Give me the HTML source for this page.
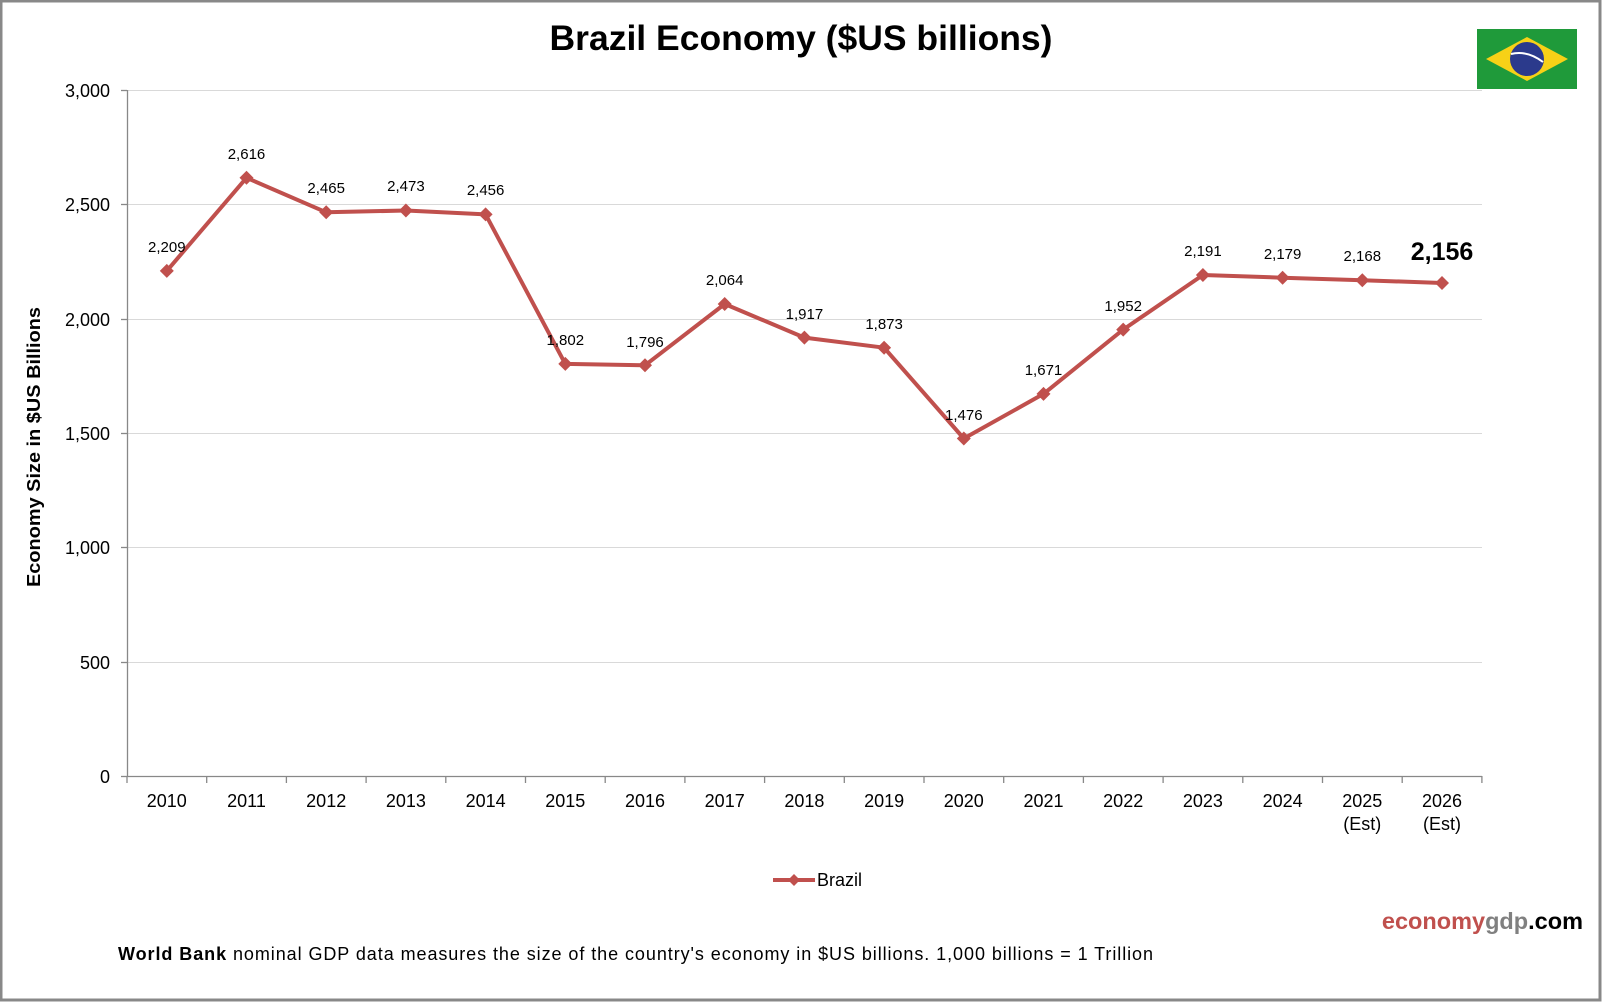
<!DOCTYPE html>
<html><head><meta charset="utf-8"><style>html,body{margin:0;padding:0;background:#fff}svg{display:block}</style></head><body>
<svg width="1602" height="1002" viewBox="0 0 1602 1002" xmlns="http://www.w3.org/2000/svg" font-family="Liberation Sans, Arial, sans-serif">
<rect x="1" y="1" width="1599" height="999" fill="#fff" stroke="#888" stroke-width="3"/>
<text x="801" y="50" text-anchor="middle" font-size="35.5" font-weight="bold">Brazil Economy ($US billions)</text>
<g>
<rect x="1477" y="29" width="100" height="60" fill="#1f9a3a"/>
<polygon points="1486,59 1527,37 1568,59 1527,81" fill="#f7d117"/>
<circle cx="1527" cy="59" r="17" fill="#2b3a8c"/>
<path d="M1511,54 Q1527,50 1543,62" stroke="#fff" stroke-width="2" fill="none"/>
</g>
<g stroke="#d9d9d9" stroke-width="1">
<line x1="127" y1="90.5" x2="1482" y2="90.5"/><line x1="127" y1="204.5" x2="1482" y2="204.5"/><line x1="127" y1="319.5" x2="1482" y2="319.5"/><line x1="127" y1="433.5" x2="1482" y2="433.5"/><line x1="127" y1="547.5" x2="1482" y2="547.5"/><line x1="127" y1="662.5" x2="1482" y2="662.5"/>
</g>
<g stroke="#888" stroke-width="1.3">
<line x1="127.5" y1="90" x2="127.5" y2="777"/><line x1="127" y1="776.5" x2="1482" y2="776.5"/>
<line x1="121" y1="90.5" x2="127" y2="90.5"/><line x1="121" y1="204.5" x2="127" y2="204.5"/><line x1="121" y1="319.5" x2="127" y2="319.5"/><line x1="121" y1="433.5" x2="127" y2="433.5"/><line x1="121" y1="547.5" x2="127" y2="547.5"/><line x1="121" y1="662.5" x2="127" y2="662.5"/><line x1="121" y1="776.5" x2="127" y2="776.5"/>
<path d="M127 776v7M206.7 776v7M286.4 776v7M366.1 776v7M445.8 776v7M525.5 776v7M605.2 776v7M684.9 776v7M764.6 776v7M844.3 776v7M924 776v7M1003.7 776v7M1083.4 776v7M1163.1 776v7M1242.8 776v7M1322.5 776v7M1402.2 776v7M1481.9 776v7"/>
</g>
<g font-size="18" text-anchor="end">
<text x="110" y="97">3,000</text><text x="110" y="211">2,500</text><text x="110" y="326">2,000</text><text x="110" y="440">1,500</text><text x="110" y="554">1,000</text><text x="110" y="669">500</text><text x="110" y="783">0</text>
</g>
<g font-size="18" text-anchor="middle">
<text x="166.8" y="807">2010</text><text x="246.5" y="807">2011</text><text x="326.2" y="807">2012</text><text x="405.9" y="807">2013</text><text x="485.6" y="807">2014</text><text x="565.3" y="807">2015</text><text x="645" y="807">2016</text><text x="724.7" y="807">2017</text><text x="804.4" y="807">2018</text><text x="884.1" y="807">2019</text><text x="963.8" y="807">2020</text><text x="1043.5" y="807">2021</text><text x="1123.2" y="807">2022</text><text x="1202.9" y="807">2023</text><text x="1282.6" y="807">2024</text><text x="1362.3" y="807">2025</text><text x="1442" y="807">2026</text>
<text x="1362.3" y="830">(Est)</text><text x="1442" y="830">(Est)</text>
</g>
<text transform="translate(40,447) rotate(-90)" text-anchor="middle" font-size="18" font-weight="bold" textLength="280" lengthAdjust="spacingAndGlyphs">Economy Size in $US Billions</text>
<polyline fill="none" stroke="#c0504d" stroke-width="4" stroke-linejoin="round" points="166.8,270.9 246.5,177.8 326.2,212.3 405.9,210.5 485.6,214.4 565.3,363.9 645,365.3 724.7,304 804.4,337.6 884.1,347.7 963.8,438.5 1043.5,393.9 1123.2,329.6 1202.9,275 1282.6,277.7 1362.3,280.2 1442,283"/>
<g fill="#c0504d">
<path d="M166.8 263.9l7 7-7 7-7-7z"/><path d="M246.5 170.8l7 7-7 7-7-7z"/><path d="M326.2 205.3l7 7-7 7-7-7z"/><path d="M405.9 203.5l7 7-7 7-7-7z"/><path d="M485.6 207.4l7 7-7 7-7-7z"/><path d="M565.3 356.9l7 7-7 7-7-7z"/><path d="M645 358.3l7 7-7 7-7-7z"/><path d="M724.7 297l7 7-7 7-7-7z"/><path d="M804.4 330.6l7 7-7 7-7-7z"/><path d="M884.1 340.7l7 7-7 7-7-7z"/><path d="M963.8 431.5l7 7-7 7-7-7z"/><path d="M1043.5 386.9l7 7-7 7-7-7z"/><path d="M1123.2 322.6l7 7-7 7-7-7z"/><path d="M1202.9 268l7 7-7 7-7-7z"/><path d="M1282.6 270.7l7 7-7 7-7-7z"/><path d="M1362.3 273.2l7 7-7 7-7-7z"/><path d="M1442 276l7 7-7 7-7-7z"/>
</g>
<g font-size="15" text-anchor="middle">
<text x="166.8" y="252">2,209</text><text x="246.5" y="159">2,616</text><text x="326.2" y="193">2,465</text><text x="405.9" y="191">2,473</text><text x="485.6" y="195">2,456</text><text x="565.3" y="345">1,802</text><text x="645" y="347">1,796</text><text x="724.7" y="285">2,064</text><text x="804.4" y="319">1,917</text><text x="884.1" y="329">1,873</text><text x="963.8" y="420">1,476</text><text x="1043.5" y="375">1,671</text><text x="1123.2" y="311">1,952</text><text x="1202.9" y="256">2,191</text><text x="1282.6" y="259">2,179</text><text x="1362.3" y="261">2,168</text>
</g>
<text x="1442" y="260" text-anchor="middle" font-size="25" font-weight="bold">2,156</text>
<line x1="773" y1="880" x2="815" y2="880" stroke="#c0504d" stroke-width="4"/>
<path d="M794 874l6 6-6 6-6-6z" fill="#c0504d"/>
<text x="817" y="886" font-size="18">Brazil</text>
<text x="1583" y="929" text-anchor="end" font-size="23.5" font-weight="bold"><tspan fill="#c0504d">economy</tspan><tspan fill="#808080">gdp</tspan><tspan fill="#000">.com</tspan></text>
<text x="118" y="960" font-size="18" textLength="1035" lengthAdjust="spacing"><tspan font-weight="bold">World Bank</tspan> nominal GDP data  measures the size of the country's economy in $US billions.  1,000 billions = 1 Trillion</text>
</svg>
</body></html>
